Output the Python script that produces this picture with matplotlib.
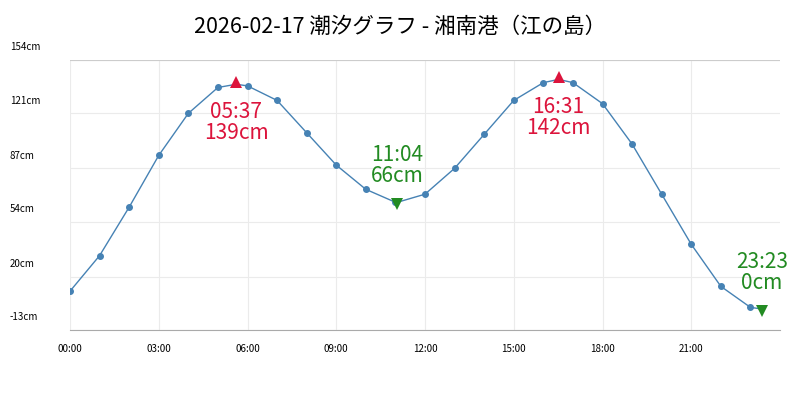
import matplotlib
matplotlib.use("Agg")
import matplotlib.pyplot as plt
from matplotlib import transforms

plt.rcParams['font.family'] = ['Noto Sans CJK JP', 'DejaVu Sans']

hours = list(range(24))
levels = [11, 33, 63, 95, 121, 137, 138, 129, 109, 89, 74, 66, 71, 87, 108, 129, 140, 140, 127, 102, 71, 40, 14, 1]
ext_times = [5 + 37/60, 11 + 4/60, 16 + 31/60, 23 + 23/60]
ext_labels = ["05:37", "11:04", "16:31", "23:23"]
ext_levels = [139, 66, 142, 0]
ext_types = ["high", "low", "high", "low"]
yticks = [-13, 20, 54, 87, 121, 154]
xticks = [0, 3, 6, 9, 12, 15, 18, 21]
xticklabels = ["00:00", "03:00", "06:00", "09:00", "12:00", "15:00", "18:00", "21:00"]

pts = sorted(list(zip(hours, levels)) + list(zip(ext_times, ext_levels)))
lx = [p[0] for p in pts]
ly = [p[1] for p in pts]

fig = plt.figure(figsize=(8, 4), dpi=100)
ax = fig.add_axes([0.0875, 0.175, 0.8875, 0.675])
ax.plot(lx, ly, color='#4682b4', lw=1.0, zorder=2)
ax.plot(hours, levels, 'o', color='#4682b4', ms=4, zorder=3)

for t, lab, v, k in zip(ext_times, ext_labels, ext_levels, ext_types):
    if k == "high":
        ax.plot(t, v + 1.5, marker='^', color='#dc143c', ms=9, zorder=4, markeredgewidth=0)
        ax.annotate(f"{lab}\n{v}cm", (t, v), xytext=(0, -12), textcoords='offset points',
                    ha='center', va='top', color='#dc143c', fontsize=15, linespacing=0.95)
    else:
        ax.plot(t, v - 1, marker='v', color='#228b22', ms=9, zorder=4, markeredgewidth=0)
        ax.annotate(f"{lab}\n{v}cm", (t, v), xytext=(0, 11), textcoords='offset points',
                    ha='center', va='bottom', color='#228b22', fontsize=15, linespacing=0.95)

ax.set_xlim(0, 24)
ax.set_ylim(-13, 154)
ax.set_xticks(xticks)
ax.set_xticklabels(xticklabels, fontsize=7)
ax.set_yticks(yticks)
ax.set_yticklabels([])
ax.tick_params(axis='y', length=0)
ax.tick_params(axis='x', length=0, pad=10)
ax.grid(True, color='#ebebeb', lw=0.8)
for s in ['left', 'right', 'top']:
    ax.spines[s].set_visible(False)
ax.spines['bottom'].set_color('#aaaaaa')
ax.axhline(154, color='#cccccc', lw=0.8)

tr = transforms.blended_transform_factory(ax.transAxes, ax.transData)
for y in yticks:
    ax.text(-60/710, y, f"{y}cm", transform=tr + transforms.ScaledTranslation(0, 9/72, fig.dpi_scale_trans),
            ha='left', va='center', fontsize=7)

fig.suptitle("2026-02-17 潮汐グラフ - 湘南港（江の島）", fontsize=15.5, y=0.96)
fig.savefig("out.png", dpi=100)
